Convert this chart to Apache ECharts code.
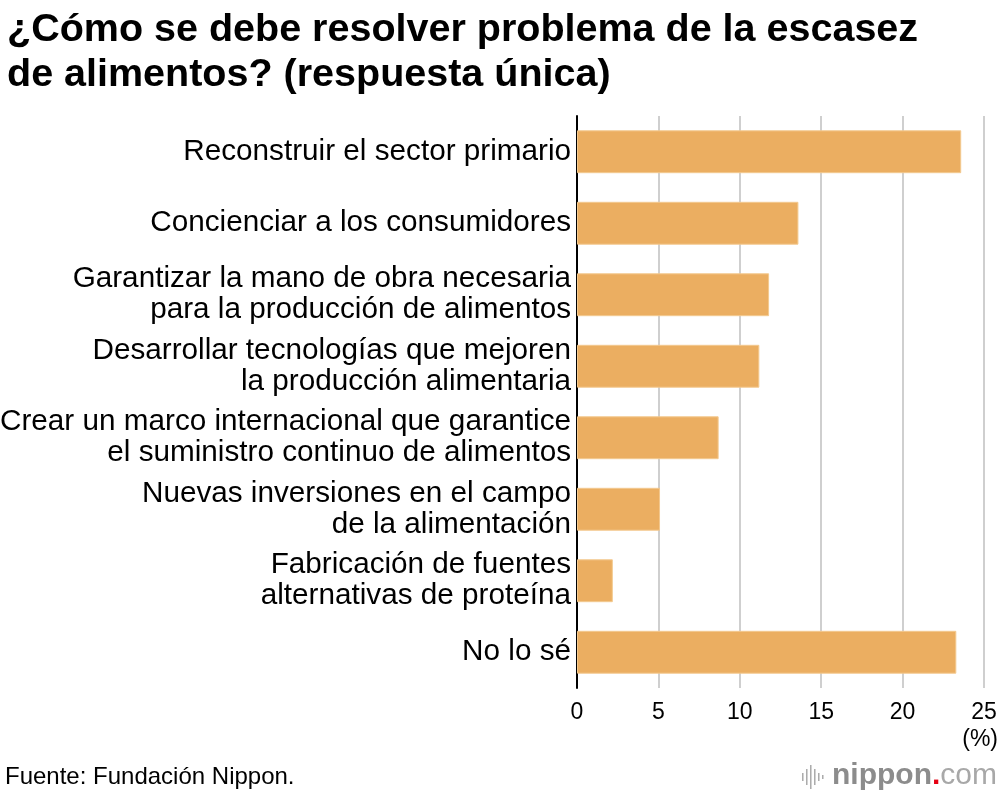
<!DOCTYPE html>
<html>
<head>
<meta charset="utf-8">
<script src="https://cdn.jsdelivr.net/npm/echarts@6/dist/echarts.min.js"></script>
<style>
html,body{margin:0;padding:0;background:#fff;}
#chart{width:1000px;height:796px;}
</style>
</head>
<body>
<div id="chart"></div>
<script>
const titleText = "¿Cómo se debe resolver problema de la escasez\nde alimentos? (respuesta única)";
const categories = [
  "Reconstruir el sector primario",
  "Concienciar a los consumidores",
  "Garantizar la mano de obra necesaria\npara la producción de alimentos",
  "Desarrollar tecnologías que mejoren\nla producción alimentaria",
  "Crear un marco internacional que garantice\nel suministro continuo de alimentos",
  "Nuevas inversiones en el campo\nde la alimentación",
  "Fabricación de fuentes\nalternativas de proteína",
  "No lo sé"
];
const values = [23.6, 13.6, 11.8, 11.2, 8.7, 5.1, 2.2, 23.3];
const axisTicks = [0, 5, 10, 15, 20, 25];
const unitLabel = "(%)";
const sourceText = "Fuente: Fundación Nippon.";

const FONT = "Liberation Sans, Arial, Helvetica, sans-serif";
const chart = echarts.init(document.getElementById('chart'), null, {renderer: 'canvas'});
chart.setOption({
  backgroundColor: '#fff',
  animation: false,
  title: {
    text: titleText,
    left: 2, top: 3,
    textStyle: {fontFamily: FONT, fontSize: 39.5, fontWeight: 'bold', color: '#000', lineHeight: 45}
  },
  grid: {left: 577, right: 16, top: 116, bottom: 108, containLabel: false, outerBoundsMode: 'none'},
  xAxis: {
    type: 'value', min: 0, max: 25, interval: 5,
    axisLine: {show: false},
    axisTick: {show: false},
    splitLine: {show: true, lineStyle: {color: '#cfcfcf', width: 2}},
    axisLabel: {
      fontFamily: FONT, fontSize: 23, color: '#000', margin: 13,
      formatter: v => axisTicks.includes(v) ? String(v) : ''
    }
  },
  yAxis: {
    type: 'category', data: categories, inverse: true,
    axisLine: {show: true, lineStyle: {color: '#000', width: 2}},
    axisTick: {show: false},
    axisLabel: {fontFamily: FONT, fontSize: 29.7, color: '#000', margin: 6, lineHeight: 31, align: 'right', padding: [10, 0, 0, 0]}
  },
  series: [{
    type: 'bar', data: values, barWidth: '60%',
    itemStyle: {color: '#EBAE61', borderColor: '#F3C98F', borderWidth: 1},
    z: 3
  }],
  graphic: [
    {type: 'text', right: 2, top: 728, style: {text: unitLabel, font: '23px ' + FONT, fill: '#000'}},
    {type: 'text', left: 5, top: 765, style: {text: sourceText, font: '24px ' + FONT, fill: '#000'}},
    {type: 'group', right: 3, top: 761, children: [
      {type: 'rect', shape: {x: 0, y: 12, width: 1.5, height: 8}, style: {fill: '#aaa'}},
      {type: 'rect', shape: {x: 4, y: 8, width: 1.5, height: 16}, style: {fill: '#aaa'}},
      {type: 'rect', shape: {x: 8, y: 4, width: 1.5, height: 24}, style: {fill: '#aaa'}},
      {type: 'rect', shape: {x: 12, y: 8, width: 1.5, height: 16}, style: {fill: '#aaa'}},
      {type: 'rect', shape: {x: 16, y: 12, width: 1.5, height: 8}, style: {fill: '#aaa'}},
      {type: 'rect', shape: {x: 20, y: 14, width: 1.5, height: 4}, style: {fill: '#aaa'}},
      {type: 'text', x: 30, y: 0, style: {
        text: '{a|nippon}{b|.}{c|com}',
        rich: {
          a: {font: 'bold 30px ' + FONT, fill: '#8c8c8c'},
          b: {font: 'bold 30px ' + FONT, fill: '#e60012'},
          c: {font: '30px ' + FONT, fill: '#a8a8a8'}
        }
      }}
    ]}
  ]
});
</script>
</body>
</html>
